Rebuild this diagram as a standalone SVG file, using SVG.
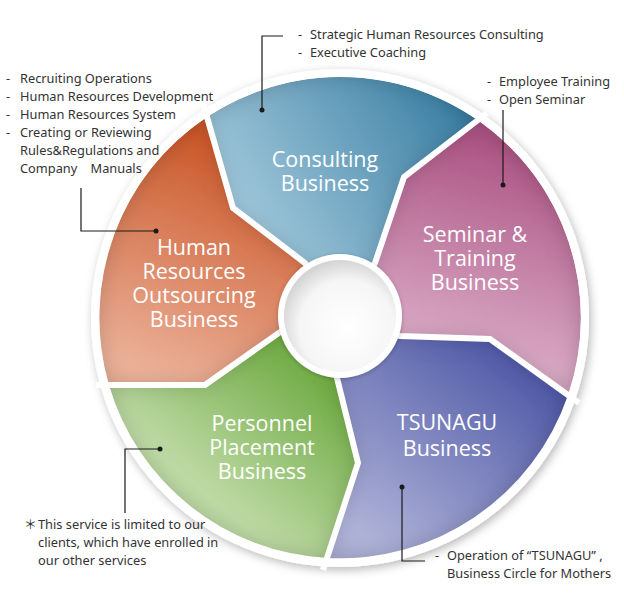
<svg xmlns="http://www.w3.org/2000/svg" width="624" height="600" viewBox="0 0 624 600">
<defs>
<style>
.lbl{font-family:"Open Sans","Noto Sans",sans-serif;font-size:21.5px;fill:#fff;text-anchor:middle}
.ann{font-family:"Noto Sans","Liberation Sans",sans-serif;font-size:12.8px;fill:#333}
.lead{fill:none;stroke:#1a1a1a;stroke-width:1.2}
.dot{fill:#1a1a1a}
.sep{fill:none;stroke:#fff;stroke-width:6;stroke-linejoin:miter}
</style>
<filter id="inset" x="-10%" y="-10%" width="120%" height="120%">
<feFlood flood-color="#000" flood-opacity="0.38"/>
<feComposite in2="SourceAlpha" operator="out"/>
<feGaussianBlur stdDeviation="11"/>
<feComposite in2="SourceAlpha" operator="in" result="sh"/>
<feMerge><feMergeNode in="SourceGraphic"/><feMergeNode in="sh"/></feMerge>
</filter>
<filter id="drop" x="-10%" y="-10%" width="120%" height="120%">
<feDropShadow dx="2" dy="3" stdDeviation="5" flood-color="#000" flood-opacity="0.28"/>
</filter>
<filter id="drop2" x="-20%" y="-20%" width="140%" height="140%">
<feDropShadow dx="0" dy="1" stdDeviation="2" flood-color="#000" flood-opacity="0.25"/>
</filter>
<linearGradient id="gCon" gradientUnits="userSpaceOnUse" x1="240" y1="250" x2="470" y2="110">
<stop offset="0" stop-color="#a8cddf"/><stop offset="1" stop-color="#3a7ea3"/></linearGradient>
<linearGradient id="gSem" gradientUnits="userSpaceOnUse" x1="440" y1="340" x2="490" y2="140">
<stop offset="0" stop-color="#d8a7c3"/><stop offset="1" stop-color="#ac5584"/></linearGradient>
<linearGradient id="gTsu" gradientUnits="userSpaceOnUse" x1="370" y1="540" x2="510" y2="360">
<stop offset="0" stop-color="#aeb2d8"/><stop offset="1" stop-color="#535ca8"/></linearGradient>
<linearGradient id="gPla" gradientUnits="userSpaceOnUse" x1="190" y1="480" x2="300" y2="350">
<stop offset="0" stop-color="#bedaa5"/><stop offset="1" stop-color="#6eaa42"/></linearGradient>
<linearGradient id="gHr" gradientUnits="userSpaceOnUse" x1="140" y1="370" x2="230" y2="150">
<stop offset="0" stop-color="#ebb199"/><stop offset="1" stop-color="#cc5a2d"/></linearGradient>
<radialGradient id="gCen" cx="0.56" cy="0.6" r="0.6">
<stop offset="0" stop-color="#ffffff"/><stop offset="0.7" stop-color="#f6f6f6"/><stop offset="1" stop-color="#d4d4d4"/></radialGradient>
</defs>
<rect width="624" height="600" fill="#fff"/>
<circle cx="340" cy="318" r="249" fill="#fff" filter="url(#drop)"/>

<g id="consulting">
<g filter="url(#inset)"><path d="M207,117 A241,241 0 0 1 478,120 L404,177 L375,263 L340,316 L305,263 L233,208 Z" fill="url(#gCon)"/></g>
<text class="lbl" x="325" y="167">Consulting</text>
<text class="lbl" x="325" y="191">Business</text>
</g>
<g id="seminar">
<g filter="url(#inset)"><path d="M478,120 A241,241 0 0 1 568,395 L490,339 L400,336 L340,316 L375,263 L404,177 Z" fill="url(#gSem)"/></g>
<text class="lbl" x="475" y="242">Seminar &amp;</text>
<text class="lbl" x="475" y="266">Training</text>
<text class="lbl" x="475" y="290">Business</text>
</g>
<g id="tsunagu">
<g filter="url(#inset)"><path d="M568,395 A241,241 0 0 1 327,558 L358,463 L337,378 L340,316 L400,336 L490,339 Z" fill="url(#gTsu)"/></g>
<text class="lbl" x="447" y="430">TSUNAGU</text>
<text class="lbl" x="447" y="456">Business</text>
</g>
<g id="placement">
<g filter="url(#inset)"><path d="M327,558 A241,241 0 0 1 109,385 L205,385 L283,330 L340,316 L337,378 L358,463 Z" fill="url(#gPla)"/></g>
<text class="lbl" x="262" y="431">Personnel</text>
<text class="lbl" x="262" y="455">Placement</text>
<text class="lbl" x="262" y="479">Business</text>
</g>
<g id="hr">
<g filter="url(#inset)"><path d="M109,385 A241,241 0 0 1 207,117 L233,208 L305,263 L340,316 L283,330 L205,385 Z" fill="url(#gHr)"/></g>
<text class="lbl" x="194" y="255">Human</text>
<text class="lbl" x="194" y="279">Resources</text>
<text class="lbl" x="194" y="303">Outsourcing</text>
<text class="lbl" x="194" y="327">Business</text>
</g>

<g id="separators">
<path class="sep" d="M203,104 L207,117 L233,208 L305,263 L340,316"/>
<path class="sep" d="M487,113 L478,120 L404,177 L375,263 L340,316"/>
<path class="sep" d="M579,403 L568,395 L490,339 L400,336 L340,316"/>
<path class="sep" d="M323,570 L327,558 L358,463 L337,378 L340,316"/>
<path class="sep" d="M96,385 L109,385 L205,385 L283,330 L340,316"/>
<circle cx="340" cy="318" r="244.5" fill="none" stroke="#fff" stroke-width="7"/>
</g>

<g id="center">
<circle cx="340" cy="316" r="62" fill="#fff" filter="url(#drop2)"/>
<circle cx="340" cy="316" r="56" fill="url(#gCen)"/>
</g>

<g id="connectors">
<polyline class="lead" points="283,36 262,36 262,110"/>
<circle class="dot" cx="262" cy="110" r="2.5"/>
<polyline class="lead" points="81,188 81,231 156,231"/>
<circle class="dot" cx="156" cy="231" r="2.5"/>
<polyline class="lead" points="503,110 503,185"/>
<circle class="dot" cx="503" cy="185" r="2.5"/>
<polyline class="lead" points="125,513 125,449 160,449"/>
<circle class="dot" cx="160" cy="449" r="2.5"/>
<polyline class="lead" points="402,487 402,561 425,561"/>
<circle class="dot" cx="402" cy="487" r="2.5"/>
</g>

<g id="notes">
<text class="ann" x="298" y="39">-</text><text class="ann" x="310" y="39">Strategic Human Resources Consulting</text>
<text class="ann" x="298" y="57">-</text><text class="ann" x="310" y="57">Executive Coaching</text>
<text class="ann" x="6" y="83">-</text><text class="ann" x="20" y="83">Recruiting Operations</text>
<text class="ann" x="6" y="101">-</text><text class="ann" x="20" y="101">Human Resources Development</text>
<text class="ann" x="6" y="119">-</text><text class="ann" x="20" y="119">Human Resources System</text>
<text class="ann" x="6" y="137">-</text><text class="ann" x="20" y="137">Creating or Reviewing</text>
<text class="ann" x="20" y="155">Rules&amp;Regulations and</text>
<text class="ann" x="20" y="173" xml:space="preserve">Company    Manuals</text>
<text class="ann" x="487" y="86">-</text><text class="ann" x="499" y="86">Employee Training</text>
<text class="ann" x="487" y="104">-</text><text class="ann" x="499" y="104">Open Seminar</text>
<text class="ann" x="24" y="529" style="font-family:'Noto Sans CJK JP',sans-serif">＊</text><text class="ann" x="38" y="529">This service is limited to our</text>
<text class="ann" x="38" y="547">clients, which have enrolled in</text>
<text class="ann" x="38" y="565">our other services</text>
<text class="ann" x="435" y="560">-</text><text class="ann" x="447" y="560">Operation of “TSUNAGU” ,</text>
<text class="ann" x="447" y="578">Business Circle for Mothers</text>
</g>
</svg>
